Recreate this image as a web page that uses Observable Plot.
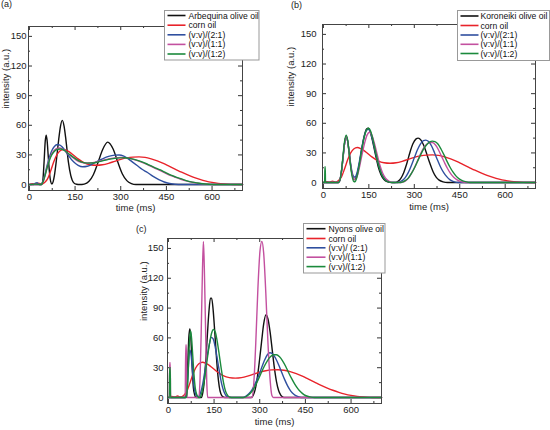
<!DOCTYPE html>
<html><head><meta charset="utf-8">
<script src="https://cdn.jsdelivr.net/npm/d3@7"></script>
<script src="https://cdn.jsdelivr.net/npm/@observablehq/plot@0.6"></script>
<style>
body{margin:0;background:#fff;font-family:"Liberation Sans",Arial,sans-serif;}
#root{position:relative;width:550px;height:430px;overflow:hidden;background:#fff;}
.panel{position:absolute;}
.legend{position:absolute;overflow:visible;}
.plab{position:absolute;font-size:9px;color:#222;white-space:nowrap;}
</style></head><body><div id="root"></div>
<script>
// ---- tick values ----
const xMajor = [0, 150, 300, 450, 600];
const xMinor = [75, 225, 375, 525, 675];
const yMajor = [0, 30, 60, 90, 120, 150];
const yMinor = [15, 45, 75, 105, 135];
const xTitle = "time (ms)";
const yTitle = "intensity (a.u.)";

// ---- legend labels / colours ----
const legendA = ["Arbequina olive oil", "corn oil", "(v:v)/(2:1)", "(v:v)/(1:1)", "(v:v)/(1:2)"];
const legendB = ["Koroneiki olive oil", "corn oil", "(v:v)/(2:1)", "(v:v)/(1:1)", "(v:v)/(1:2)"];
const legendC = ["Nyons olive oil", "corn oil", "(v:v)/ (2:1)", "(v:v)/(1:1)", "(v:v)/(1:2)"];
const seriesColors = ["#111111", "#e8232a", "#2f4f9f", "#c3509f", "#1b8a3c"];

// ---- corn oil (same trace in all panels) [time ms, intensity] ----
const cornOil = [[0,0],[10,1],[20,0.5],[30,1.5],[40,0.5],[50,2],[60,6],[70,14],[80,23],[90,30],[100,34],[112,35.5],[125,34],[140,31],[160,26],[180,22],[200,20],[220,19.5],[240,20],[260,21.5],[280,23.5],[300,25.5],[320,27],[340,27.8],[360,28],[380,27.5],[400,26],[420,24],[440,21.5],[460,18.5],[480,15.5],[500,12.5],[520,9.8],[540,7.3],[560,5.2],[580,3.5],[600,2.2],[620,1.2],[640,0.6],[660,0.2],[680,0],[700,0]];

// ---- panel (a) ----
const arbequina = [[0,0],[40,0],[44,4],[48,22],[52,44],[55,50],[58,45],[62,28],[66,12],[70,3],[74,0.5],[78,3],[82,9],[88,23],[96,45],[102,59],[108,65],[114,59],[120,45],[128,23],[136,9],[145,2],[155,0.3],[165,0],[180,0.5],[195,3],[210,10],[225,22],[240,35],[257,43],[275,36],[290,23],[305,11],[320,4],[335,1],[350,0],[700,0]];
const a21 = [[0,0],[14,0],[20,1.5],[25,2],[30,0.5],[38,0],[44,3],[50,9],[57,18],[65,27],[73,34],[82,38.5],[92,40.5],[100,40],[108,38],[118,34],[130,28.5],[145,23],[160,19.5],[175,18],[190,18.5],[205,20.5],[220,23],[240,26],[260,28.5],[280,29.8],[295,30],[310,28.8],[325,26],[340,22.5],[355,19],[370,15.5],[388,12.2],[405,8.5],[425,5],[443,2.6],[465,0.8],[490,0],[700,0]];
const a11 = [[0,0],[38,0],[45,3],[52,10],[60,20],[70,29],[80,34],[90,36.5],[100,37],[112,35.5],[125,32],[140,28],[155,24.5],[170,22.5],[185,21.8],[200,22],[220,23],[240,24.5],[260,26],[280,27],[300,27.5],[315,27.3],[333,26.3],[350,24.8],[370,22.5],[390,19.8],[410,17],[430,14],[445,11.8],[465,9],[480,7.2],[497,5.4],[515,3.7],[535,2.3],[552,1.4],[570,0.7],[590,0.2],[610,0],[700,0]];
const a12 = [[0,0],[20,0.5],[38,0],[45,3],[52,10],[60,19],[70,28],[80,33],[90,35.5],[102,36],[115,34.5],[130,31],[145,27.5],[160,24.5],[175,22.5],[190,21.7],[205,21.8],[220,22.5],[240,24],[260,25.5],[280,26.5],[300,27],[315,27.2],[333,26.3],[350,25],[370,23],[390,20.3],[410,17.5],[430,14.8],[445,12.5],[465,9.5],[480,7.8],[497,6],[515,4],[535,2.5],[552,1.6],[570,0.8],[590,0.3],[610,0],[700,0]];

// ---- panel (b) ----
const koroneiki = [[0,0],[50,0],[55,3],[60,12],[65,26],[70,40],[75,47],[80,42],[85,30],[90,17],[95,8],[100,3.5],[104,3],[110,7],[118,18],[126,33],[134,46],[142,54],[148,55],[155,51],[163,41],[172,28],[181,16],[190,8],[200,3],[212,0.7],[225,0],[235,0],[245,1],[255,4],[265,10],[275,19],[285,30],[295,39],[305,44],[313,45],[322,43],[332,37],[342,28],[352,19],[362,11],[372,5.5],[382,2.5],[395,0.7],[410,0],[700,0]];
const b21 = [[0,0],[50,0],[55,3],[60,12],[65,26],[70,40],[75,47],[80,42],[85,31],[90,19],[95,10],[100,6],[104,5.5],[110,9],[118,20],[126,34],[134,46],[142,53],[149,54],[156,50],[164,41],[173,29],[182,18],[192,9],[203,3.5],[215,1],[228,0],[240,0],[250,0.5],[260,2],[270,5],[280,10],[290,17],[300,25],[310,33],[320,39],[330,42.5],[338,43],[347,41.5],[357,37],[367,30],[377,22.5],[387,15.5],[397,10],[407,6],[417,3],[430,1],[445,0],[700,0]];
const b11 = [[0,0],[50,0],[55,3],[60,12],[65,26],[70,40],[75,47],[80,42],[85,30],[90,17],[95,8],[100,3.5],[105,3],[112,7],[120,17],[128,29],[136,40],[144,48],[152,51],[160,48],[168,40],[177,29],[186,18],[195,10],[205,4.5],[217,1.3],[232,0],[250,0],[262,0.5],[272,2],[282,5],[292,10],[302,16],[312,23],[322,30],[332,35.5],[342,39],[352,40.5],[360,40.5],[370,38],[380,33],[390,26.5],[400,20],[410,14],[420,9],[430,5.5],[440,3],[452,1.2],[465,0.3],[475,0],[700,0]];
const b12 = [[0,0],[4,0],[5,16],[6,16],[7,0],[50,0],[55,3],[60,13],[65,28],[70,42],[75,48],[80,43],[85,30],[90,16],[95,6],[100,1.2],[104,0.8],[110,5],[118,17],[126,32],[134,45],[142,53],[149,55],[156,52],[164,43],[173,30],[182,18],[192,8.5],[203,3],[215,0.7],[228,0],[250,0],[260,0.5],[270,2],[280,4.5],[290,9],[300,14.5],[310,21],[320,27.5],[330,33.5],[340,38],[350,41],[360,42],[368,41.5],[378,39],[388,34],[398,28],[408,21.5],[418,15.5],[428,10.5],[438,6.5],[448,3.8],[460,1.8],[472,0.7],[485,0.1],[495,0],[700,0]];

// ---- panel (c) ----
const nyons = [[0,0],[55,0],[58,3],[61,15],[64,38],[67,60],[70,69],[73,64],[76,45],[79,25],[82,10],[86,3],[90,0],[108,0],[113,5],[118,17],[123,38],[128,63],[133,86],[138,100],[142,100],[147,88],[152,67],[157,44],[162,24],[167,11],[172,4],[178,1],[185,0],[272,0],[278,2],[285,8],[292,20],[299,37],[306,56],[313,74],[320,83],[327,79],[334,66],[341,48],[348,30],[355,16],[362,7],[369,2.5],[376,0.5],[382,0],[700,0]];
const c21 = [[0,0],[58,0],[61,5],[64,20],[67,38],[70,48],[73,46],[77,35],[81,20],[85,9],[90,3],[95,0.5],[100,1],[106,5],[113,14],[120,27],[127,41],[134,53],[141,60.5],[147,59],[153,52],[160,40],[167,27],[174,15],[181,7],[188,2.5],[196,0.5],[205,0],[245,0],[255,1.5],[265,4],[275,8],[285,14],[295,21],[305,29],[315,37],[325,43],[333,45],[342,44],[352,39.5],[362,33],[372,25.5],[382,18],[392,11.5],[402,6.5],[412,3.3],[422,1.3],[432,0.3],[440,0],[700,0]];
const c11 = [[0,0],[3,0],[4,35],[6,35],[7,0],[55,0],[57,53],[59,53],[61,0],[100,0],[104,20],[108,70],[112,130],[115,157],[118,130],[122,70],[126,15],[129,0],[275,0],[280,12],[287,55],[294,110],[301,148],[307,157],[313,145],[320,105],[327,55],[334,18],[340,2],[345,0],[700,0]];
const c12 = [[0,0],[3,0],[4,30],[6,30],[7,0],[58,0],[61,5],[64,20],[67,42],[70,60],[73,67],[76,60],[80,42],[84,23],[88,10],[93,3],[98,0.5],[103,0],[108,3],[115,12],[122,26],[129,42],[136,56],[142,65],[148,68.5],[154,66],[160,57],[167,43],[174,28],[181,15],[188,6],[195,2],[203,0.3],[212,0],[245,0],[255,1],[265,3],[275,6.5],[285,11.5],[295,18],[305,25],[315,31.5],[325,37],[335,41],[345,43],[355,43],[365,41],[375,37],[385,31.5],[395,25],[405,19],[415,13.5],[425,9],[435,5.5],[445,3],[457,1.3],[468,0.4],[480,0],[700,0]];

const xDomain = [-3, 700];
const yDomain = [-6, 160];

const panels = [
  {tag:"(a)", left:0, top:0, w:275, h:215, ml:28, mr:33, mt:26, mb:25, ypad:2, xdy:20, ydx:-23,
   series:[arbequina, cornOil, a21, a11, a12], legend:legendA,
   leg:{left:163.5, top:9.5, w:95.5, h:50.5, seg:[3.5,21.5], tx:24.5, rows:[5.5,15.2,24.8,34.4,44]},
   lab:{left:1, top:-1}},
  {tag:"(b)", left:275, top:0, w:275, h:215, ml:47, mr:15, mt:24, mb:27, ypad:6, xdy:21.5, ydx:-31.5,
   series:[koroneiki, cornOil, b21, b11, b12], legend:legendB,
   leg:{left:456.5, top:10, w:93, h:51, seg:[3.5,21.5], tx:23.5, rows:[6,15.5,25,34.3,43.5]},
   lab:{left:291, top:0}},
  {tag:"(c)", left:130, top:215, w:290, h:215, ml:37, mr:39, mt:23, mb:27, ypad:4, xdy:21.5, ydx:-24,
   series:[nyons, cornOil, c21, c11, c12], legend:legendC,
   leg:{left:302.5, top:223, w:82.5, h:50.5, seg:[3.5,22.5], tx:25.5, rows:[5.7,15.5,24.8,34.2,43.6]},
   lab:{left:136, top:224}}
];

const root = document.getElementById("root");

for (const p of panels) {
  const fw = p.w - p.ml - p.mr, fh = p.h - p.mt - p.mb;
  const marks = [
    Plot.tickX(xMajor, {x: d => d, insetTop: fh - 4, stroke: "#333"}),
    Plot.tickX(xMajor, {x: d => d, insetBottom: fh - 4, stroke: "#333"}),
    Plot.tickX(xMinor, {x: d => d, insetTop: fh - 2, stroke: "#333"}),
    Plot.tickX(xMinor, {x: d => d, insetBottom: fh - 2, stroke: "#333"}),
    Plot.tickY(yMajor, {y: d => d, insetRight: fw - 4, stroke: "#333"}),
    Plot.tickY(yMajor, {y: d => d, insetLeft: fw - 4, stroke: "#333"}),
    Plot.tickY(yMinor, {y: d => d, insetRight: fw - 2, stroke: "#333"}),
    Plot.tickY(yMinor, {y: d => d, insetLeft: fw - 2, stroke: "#333"}),
    Plot.axisX({ticks: xMajor, tickSize: 0, tickPadding: 3, label: null, tickFormat: d3.format("d")}),
    Plot.axisY({ticks: yMajor, tickSize: 0, tickPadding: p.ypad, label: null, tickFormat: d3.format("d")}),
    Plot.text([xTitle], {text: d => d, frameAnchor: "bottom", dy: p.xdy, fontSize: 9.5, fill: "#222"}),
    Plot.text([yTitle], {text: d => d, frameAnchor: "left", rotate: -90, dx: p.ydx, fontSize: 9.5, fill: "#222"})
  ];
  p.series.forEach((s, i) => {
    marks.push(Plot.line(s, {x: d => d[0], y: d => d[1], stroke: seriesColors[i], strokeWidth: 1.4, curve: "monotone-x"}));
  });
  marks.push(Plot.frame({stroke: "#444", strokeWidth: 1}));
  const svg = Plot.plot({
    width: p.w, height: p.h,
    marginLeft: p.ml, marginRight: p.mr, marginTop: p.mt, marginBottom: p.mb,
    x: {domain: xDomain},
    y: {domain: yDomain},
    style: {fontFamily: "'Liberation Sans', Arial, sans-serif", fontSize: "9.5px", color: "#222", background: "transparent", overflow: "visible"},
    marks
  });
  const holder = document.createElement("div");
  holder.className = "panel";
  holder.style.left = p.left + "px";
  holder.style.top = p.top + "px";
  holder.appendChild(svg);
  root.appendChild(holder);

  const lab = document.createElement("div");
  lab.className = "plab";
  lab.style.left = p.lab.left + "px";
  lab.style.top = p.lab.top + "px";
  lab.textContent = p.tag;
  root.appendChild(lab);

  // legend as a small SVG overlay
  const L = p.leg;
  const lg = d3.create("svg")
    .attr("class", "legend")
    .attr("width", L.w + 2).attr("height", L.h + 2)
    .style("left", (L.left - 1) + "px").style("top", (L.top - 1) + "px");
  lg.append("rect").attr("x", 1.5).attr("y", 1.5).attr("width", L.w - 1).attr("height", L.h - 1)
    .attr("fill", "#fff").attr("stroke", "#999").attr("stroke-width", 1);
  p.legend.forEach((name, i) => {
    const cy = 1 + L.rows[i];
    lg.append("line").attr("x1", 1 + L.seg[0]).attr("x2", 1 + L.seg[1]).attr("y1", cy).attr("y2", cy)
      .attr("stroke", seriesColors[i]).attr("stroke-width", 1.6);
    lg.append("text").attr("x", 1 + L.tx).attr("y", cy).attr("dy", "0.35em")
      .attr("font-size", 8.6).attr("font-family", "'Liberation Sans', Arial, sans-serif").attr("fill", "#111")
      .text(name);
  });
  root.appendChild(lg.node());
}
</script></body></html>
